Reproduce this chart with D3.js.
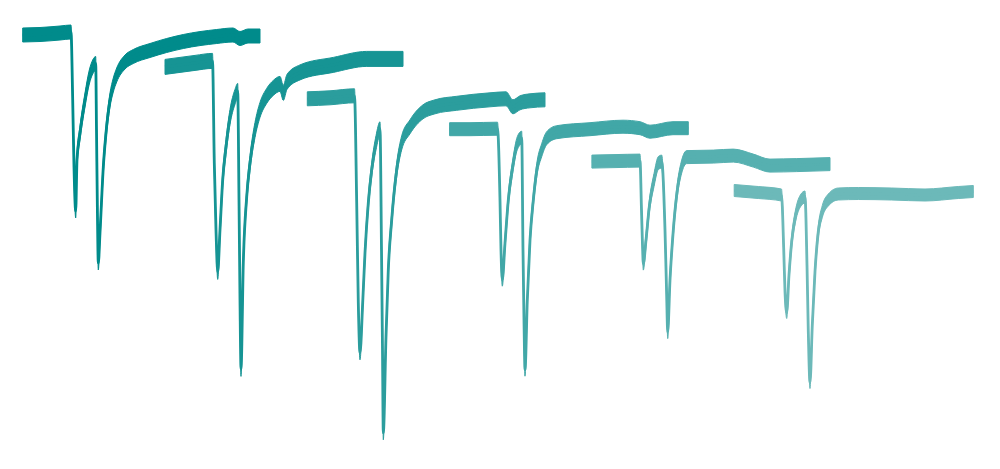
<!DOCTYPE html>
<html>
<head>
<meta charset="utf-8">
<script src="https://cdn.jsdelivr.net/npm/d3@7"></script>
<style>
  html, body { margin: 0; padding: 0; background: #ffffff; }
  svg { display: block; }
</style>
</head>
<body>
<svg id="chart" width="1000" height="469"></svg>
<script>
// Paired-pulse current traces: [time (ms, from trace start), current (pA, rel. to baseline)]
const trace1 = [[0,0],[17.3,1],[37.3,4],[48.3,6],[50,-130],[51.3,-264],[53,-352],[54.3,-250],[57.3,-196],[62.3,-130],[66.6,-84],[70,-64],[73,-57],[73.8,-190],[74.7,-350],[75.6,-456],[77.3,-396],[80.6,-264],[83.3,-196],[87.3,-130],[90.6,-100],[94,-80],[102.3,-54],[110.6,-43],[127.3,-31],[160.6,-13],[194,-3],[210.3,0],[217.3,-7],[225.3,-2],[237.3,-2]];
const trace2 = [[0,-1],[15,3],[30,7],[47.5,11],[49.3,-193],[51,-327],[52.7,-411],[55,-327],[57.7,-227],[61,-161],[65,-101],[70,-61],[72.7,-49],[74,-267],[75,-467],[76,-605],[78.3,-393],[81.7,-261],[85,-193],[90,-127],[95,-87],[101.7,-59],[108.3,-43],[115,-35],[118.3,-53],[122,-31],[135,-12],[168.3,3],[201.7,15],[238,15]];
const trace3 = [[0,-2],[22.7,0],[47.2,4],[49.4,-210],[51,-410],[52.7,-510],[55.4,-410],[57.7,-310],[61,-210],[64.4,-144],[68.7,-90],[72.7,-62],[74.2,-304],[75.2,-504],[76,-670],[78.7,-478],[81,-344],[84.4,-244],[89.4,-144],[94.4,-90],[102.7,-58],[115.7,-28],[127.7,-18],[149.4,-11],[182.7,-4],[198.7,-2],[205.7,-18],[212.7,-10],[222.7,-6],[237.7,-4]];
const trace4 = [[0,0],[20.4,0],[47.9,1],[50.4,-142],[51.4,-242],[52.7,-301],[55.4,-228],[58.7,-142],[63.1,-75],[67.7,-28],[72.1,-17],[73.4,-242],[74.4,-382],[75.4,-481],[77.7,-342],[80.4,-222],[83.7,-142],[87.7,-75],[92.1,-42],[97.1,-18],[107.1,-6],[140.4,0],[173.4,5],[190.4,2],[200.4,-5],[223.4,2],[238.7,2]];
const trace5 = [[0,-2],[23.1,-1],[48.1,0],[49.6,-99],[50.6,-169],[51.4,-206],[54.1,-159],[57.4,-92],[62.1,-39],[66.4,-5],[69.8,-2],[73.1,-139],[74.8,-272],[75.8,-343],[78.1,-239],[81.4,-139],[85.4,-59],[89.8,-12],[94.8,7],[121.4,8],[141.4,10],[161.4,0],[178.1,-10],[204.8,-9],[238.1,-7]];
const trace6 = [[0,3],[24.1,-1],[47.3,-6],[49.5,-113],[50.8,-199],[52.5,-241],[54.8,-166],[57.5,-99],[61.5,-46],[66.8,-16],[70.8,-10],[72.8,-146],[74.1,-279],[75.8,-381],[78.1,-266],[80.8,-159],[84.1,-79],[88.1,-39],[94.1,-16],[104.1,-4],[124.1,-3],[157.5,-4],[190.8,-6],[224.1,-1],[239.1,1]];

const traces = [trace1, trace2, trace3, trace4, trace5, trace6];
// peak-to-peak baseline noise of each recording (pA)
const noisePa = [28, 30, 28, 26, 26, 24];
// stacking offsets between successive sweeps
const sweepShiftMs = 142.3;
const sweepShiftPa = -62.8;

const svg = d3.select("#chart");
const W = 1000, H = 469;

const xScale = d3.scaleLinear().domain([-22.7, 977.3]).range([0, W]);
const yScale = d3.scaleLinear().domain([70, -868]).range([0, H]);

const colorScale = d3.scaleLinear()
  .domain([0, traces.length - 1])
  .range(["#008b8b", "#6cb9b9"])
  .interpolate(d3.interpolateRgb);

traces.forEach((tr, i) => {
  const col = colorScale(i);
  const half = noisePa[i] / 2;
  const X = d => xScale(d[0] + i * sweepShiftMs);
  const Y = v => yScale(v + i * sweepShiftPa);

  const area = d3.area()
    .x(X)
    .y0(d => Y(d[1] - half))
    .y1(d => Y(d[1] + half))
    .curve(d3.curveMonotoneX);

  const line = d3.line()
    .x(X)
    .y(d => Y(d[1]))
    .curve(d3.curveMonotoneX);

  const g = svg.append("g").attr("class", "sweep");
  g.append("path")
    .datum(tr)
    .attr("d", area)
    .attr("fill", col)
    .attr("stroke", col)
    .attr("stroke-width", 1)
    .attr("stroke-linejoin", "round");
  g.append("path")
    .datum(tr)
    .attr("d", line)
    .attr("fill", "none")
    .attr("stroke", col)
    .attr("stroke-width", 2.8)
    .attr("stroke-linejoin", "round");
});
</script>
</body>
</html>
